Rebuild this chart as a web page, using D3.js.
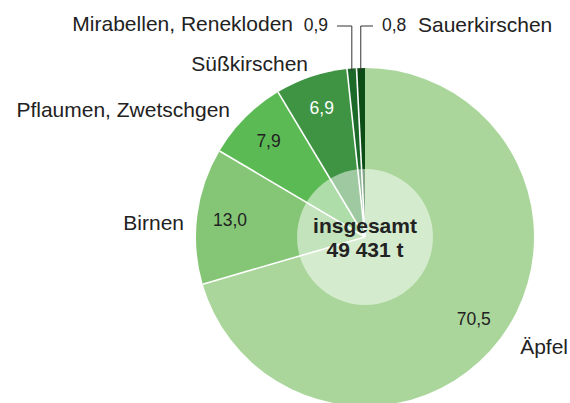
<!DOCTYPE html>
<html><head><meta charset="utf-8">
<script src="https://cdn.jsdelivr.net/npm/d3@7"></script>
<style>
html,body{margin:0;padding:0;background:#fff;}
svg{display:block;font-family:"Liberation Sans",Arial,Helvetica,sans-serif;}
</style></head>
<body>
<svg id="chart" width="570" height="403"></svg>
<script>
const categories = ["Äpfel","Birnen","Pflaumen, Zwetschgen","Süßkirschen","Mirabellen, Renekloden","Sauerkirschen"];
const shares = [70.5, 13.0, 7.9, 6.9, 0.9, 0.8];
const valueLabels = ["70,5","13,0","7,9","6,9","0,9","0,8"];
const colors = ["#aad69b","#85c676","#5cba55","#3e9443","#1b6a2a","#0c4c15"];
const totalLabel = ["insgesamt","49 431 t"];

const svg = d3.select("#chart");
const cx = 365, cy = 237, R = 169, rInner = 68, rLabel = 136;
const g = svg.append("g").attr("transform", `translate(${cx},${cy})`);

const data = categories.map((c,i)=>({cat:c, v:shares[i], lab:valueLabels[i], col:colors[i]}));
const pie = d3.pie().value(d=>d.v).sort(null);
const arcs = pie(data);
const arc = d3.arc().innerRadius(0).outerRadius(R);

g.selectAll("path.slice").data(arcs).enter().append("path")
  .attr("class","slice").attr("d",arc).attr("fill",d=>d.data.col);

// inner translucent circle
g.append("circle").attr("r",rInner).attr("fill","#fff").attr("fill-opacity",0.5);

// separator lines
arcs.forEach((a,i)=>{
  if (i===0) return;
  const ang = a.startAngle;
  g.append("line").attr("x1",0).attr("y1",0)
    .attr("x2",R*Math.sin(ang)).attr("y2",-R*Math.cos(ang))
    .attr("stroke","#fff").attr("stroke-width",1.6);
});

// value labels inside large slices
arcs.slice(0,4).forEach((a,i)=>{
  const m = (a.startAngle+a.endAngle)/2;
  g.append("text").attr("x",rLabel*Math.sin(m)).attr("y",-rLabel*Math.cos(m)+6)
    .attr("text-anchor","middle").attr("font-size",17.5)
    .attr("fill", i===3 ? "#fff" : "#222").text(a.data.lab);
});

// center text
[totalLabel[0], totalLabel[1]].forEach((t,i)=>{
  g.append("text").attr("x",0).attr("y",i===0?-4:20).attr("text-anchor","middle")
    .attr("font-size",21).attr("font-weight","bold")
    .attr("fill","#222").text(t);
});

// category labels
const lab = (x,y,t,anchor,big)=>svg.append("text").attr("x",x).attr("y",y)
  .attr("text-anchor",anchor||"start").attr("font-size", big?21:17.5)
  .attr("fill","#222").text(t);
lab(568,354,categories[0],"end",true);
lab(184,230,categories[1],"end",true);
lab(230,117,categories[2],"end",true);
lab(308,71,categories[3],"end",true);
lab(293,31,categories[4],"end",true);
lab(328,31,valueLabels[4],"end",false);
lab(382,31,valueLabels[5],"start",false);
lab(418,32,categories[5],"start",true);

// leader lines for small slices
const small = arcs.slice(4);
const lx = small.map(a=>cx + (R-1)*Math.sin((a.startAngle+a.endAngle)/2));
svg.append("polyline").attr("points",`337,26 ${lx[0]},26 ${lx[0]},${cy-R+3}`)
  .attr("fill","none").attr("stroke","#333").attr("stroke-width",1);
svg.append("polyline").attr("points",`373,26 ${lx[1]},26 ${lx[1]},${cy-R+3}`)
  .attr("fill","none").attr("stroke","#333").attr("stroke-width",1);
</script>
</body></html>
